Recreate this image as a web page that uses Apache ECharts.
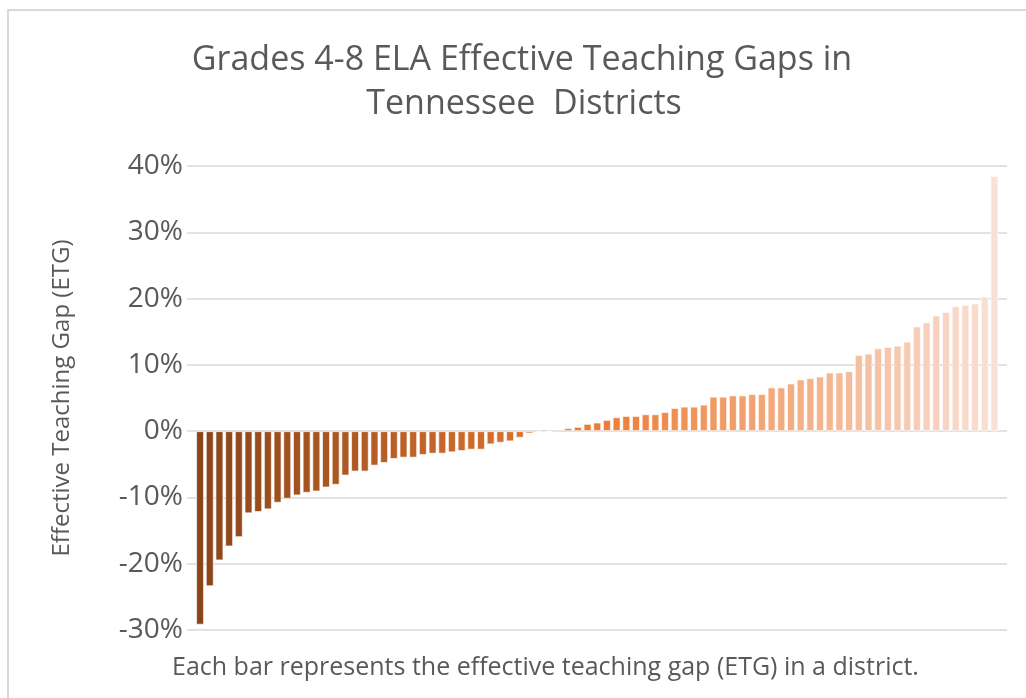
<!DOCTYPE html>
<html>
<head>
<meta charset="utf-8">
<title>Grades 4-8 ELA Effective Teaching Gaps in Tennessee Districts</title>
<script src="https://cdn.jsdelivr.net/npm/echarts@6/dist/echarts.min.js"></script>
<style>
  html, body { margin: 0; padding: 0; background: #ffffff; }
  #chart { width: 1026px; height: 698px; }
</style>
</head>
<body>
<div id="chart"></div>
<script>
// Effective teaching gap (ETG) per district, in percent, sorted ascending
const etgValues = [
  -29.2, -23.4, -19.5, -17.4, -16.0, -12.4, -12.2, -11.8, -10.8, -10.2,
  -9.7, -9.3, -9.1, -8.5, -8.1, -6.7, -6.1, -6.1, -5.2, -4.8,
  -4.2, -4.0, -4.0, -3.6, -3.4, -3.4, -3.2, -3.0, -2.8, -2.8,
  -2.0, -1.75, -1.55, -1.0, -0.35, -0.15, -0.1, 0.25, 0.45, 0.65,
  1.1, 1.3, 1.7, 2.1, 2.3, 2.3, 2.55, 2.55, 2.9, 3.5,
  3.7, 3.7, 4.0, 5.2, 5.2, 5.4, 5.4, 5.6, 5.6, 6.6,
  6.6, 7.2, 7.8, 8.0, 8.25, 8.85, 8.85, 9.05, 11.5, 11.7,
  12.5, 12.7, 12.9, 13.5, 15.8, 16.4, 17.45, 18.0, 18.85, 19.05,
  19.25, 20.3, 38.5
];

// District position along the axis (one slot per district)
const districtIndex = etgValues.map((_, i) => i);

// Y axis range and step, in percent
const yTicks = { min: -30, max: 40, step: 10 };

const titleLines = ['Grades 4-8 ELA Effective Teaching Gaps in', 'Tennessee  Districts'];
const yAxisTitle = 'Effective Teaching Gap (ETG)';
const footnote = 'Each bar represents the effective teaching gap (ETG) in a district.';

// Shade ramp: dark brown -> orange -> pale peach
function hexToRgb(h) {
  return [parseInt(h.slice(1, 3), 16), parseInt(h.slice(3, 5), 16), parseInt(h.slice(5, 7), 16)];
}
function mix(a, b, t) {
  const A = hexToRgb(a), B = hexToRgb(b);
  return 'rgb(' + A.map((v, k) => Math.round(v + (B[k] - v) * t)).join(',') + ')';
}
const rampStops = ['#8a4519', '#ec7c33', '#fae0d6'];
function shadeFor(i, n) {
  const t = i / (n - 1);
  return t < 0.5 ? mix(rampStops[0], rampStops[1], t / 0.5)
                 : mix(rampStops[1], rampStops[2], (t - 0.5) / 0.5);
}

const textColor = '#595959';
const fontFamily = '"Open Sans", "Noto Sans", sans-serif';

const chart = echarts.init(document.getElementById('chart'), null, { renderer: 'canvas' });

chart.setOption({
  backgroundColor: '#ffffff',
  animation: false,
  grid: { left: 187, right: 19, top: 166, bottom: 68, containLabel: false },
  xAxis: {
    type: 'value',
    min: -1.35,
    max: districtIndex.length - 1 + 1.3,
    show: false
  },
  yAxis: {
    type: 'value',
    min: yTicks.min,
    max: yTicks.max,
    interval: yTicks.step,
    name: yAxisTitle,
    nameLocation: 'middle',
    nameRotate: 90,
    nameGap: 113,
    nameTextStyle: { color: textColor, fontSize: 24, fontFamily: fontFamily },
    axisLine: { show: false },
    axisTick: { show: false },
    axisLabel: {
      formatter: '{value}%',
      color: textColor,
      fontSize: 28,
      fontFamily: fontFamily,
      margin: 4
    },
    splitLine: { lineStyle: { color: '#d9d9d9', width: 1.5 } }
  },
  series: [{
    type: 'bar',
    barWidth: 8,
    data: etgValues.map((v, i) => [districtIndex[i], v]),
    itemStyle: {
      color: p => shadeFor(p.dataIndex, etgValues.length),
      borderColor: 'rgba(255,255,255,0.65)',
      borderWidth: 1
    }
  }],
  graphic: [
    {
      type: 'rect',
      shape: { x: 8, y: 10, width: 1100, height: 800 },
      style: { fill: 'none', stroke: '#d9d9d9', lineWidth: 2 },
      silent: true
    },
    {
      type: 'text',
      x: 522, y: 60,
      style: {
        text: titleLines[0],
        fill: textColor,
        font: '34px ' + fontFamily,
        textAlign: 'center',
        textVerticalAlign: 'middle'
      }
    },
    {
      type: 'text',
      x: 524, y: 104,
      style: {
        text: titleLines[1],
        fill: textColor,
        font: '34px ' + fontFamily,
        textAlign: 'center',
        textVerticalAlign: 'middle'
      }
    },
    {
      type: 'text',
      x: 172, y: 668,
      style: {
        text: footnote,
        fill: textColor,
        font: '25px ' + fontFamily,
        textAlign: 'left',
        textVerticalAlign: 'middle'
      }
    }
  ]
});
</script>
</body>
</html>
